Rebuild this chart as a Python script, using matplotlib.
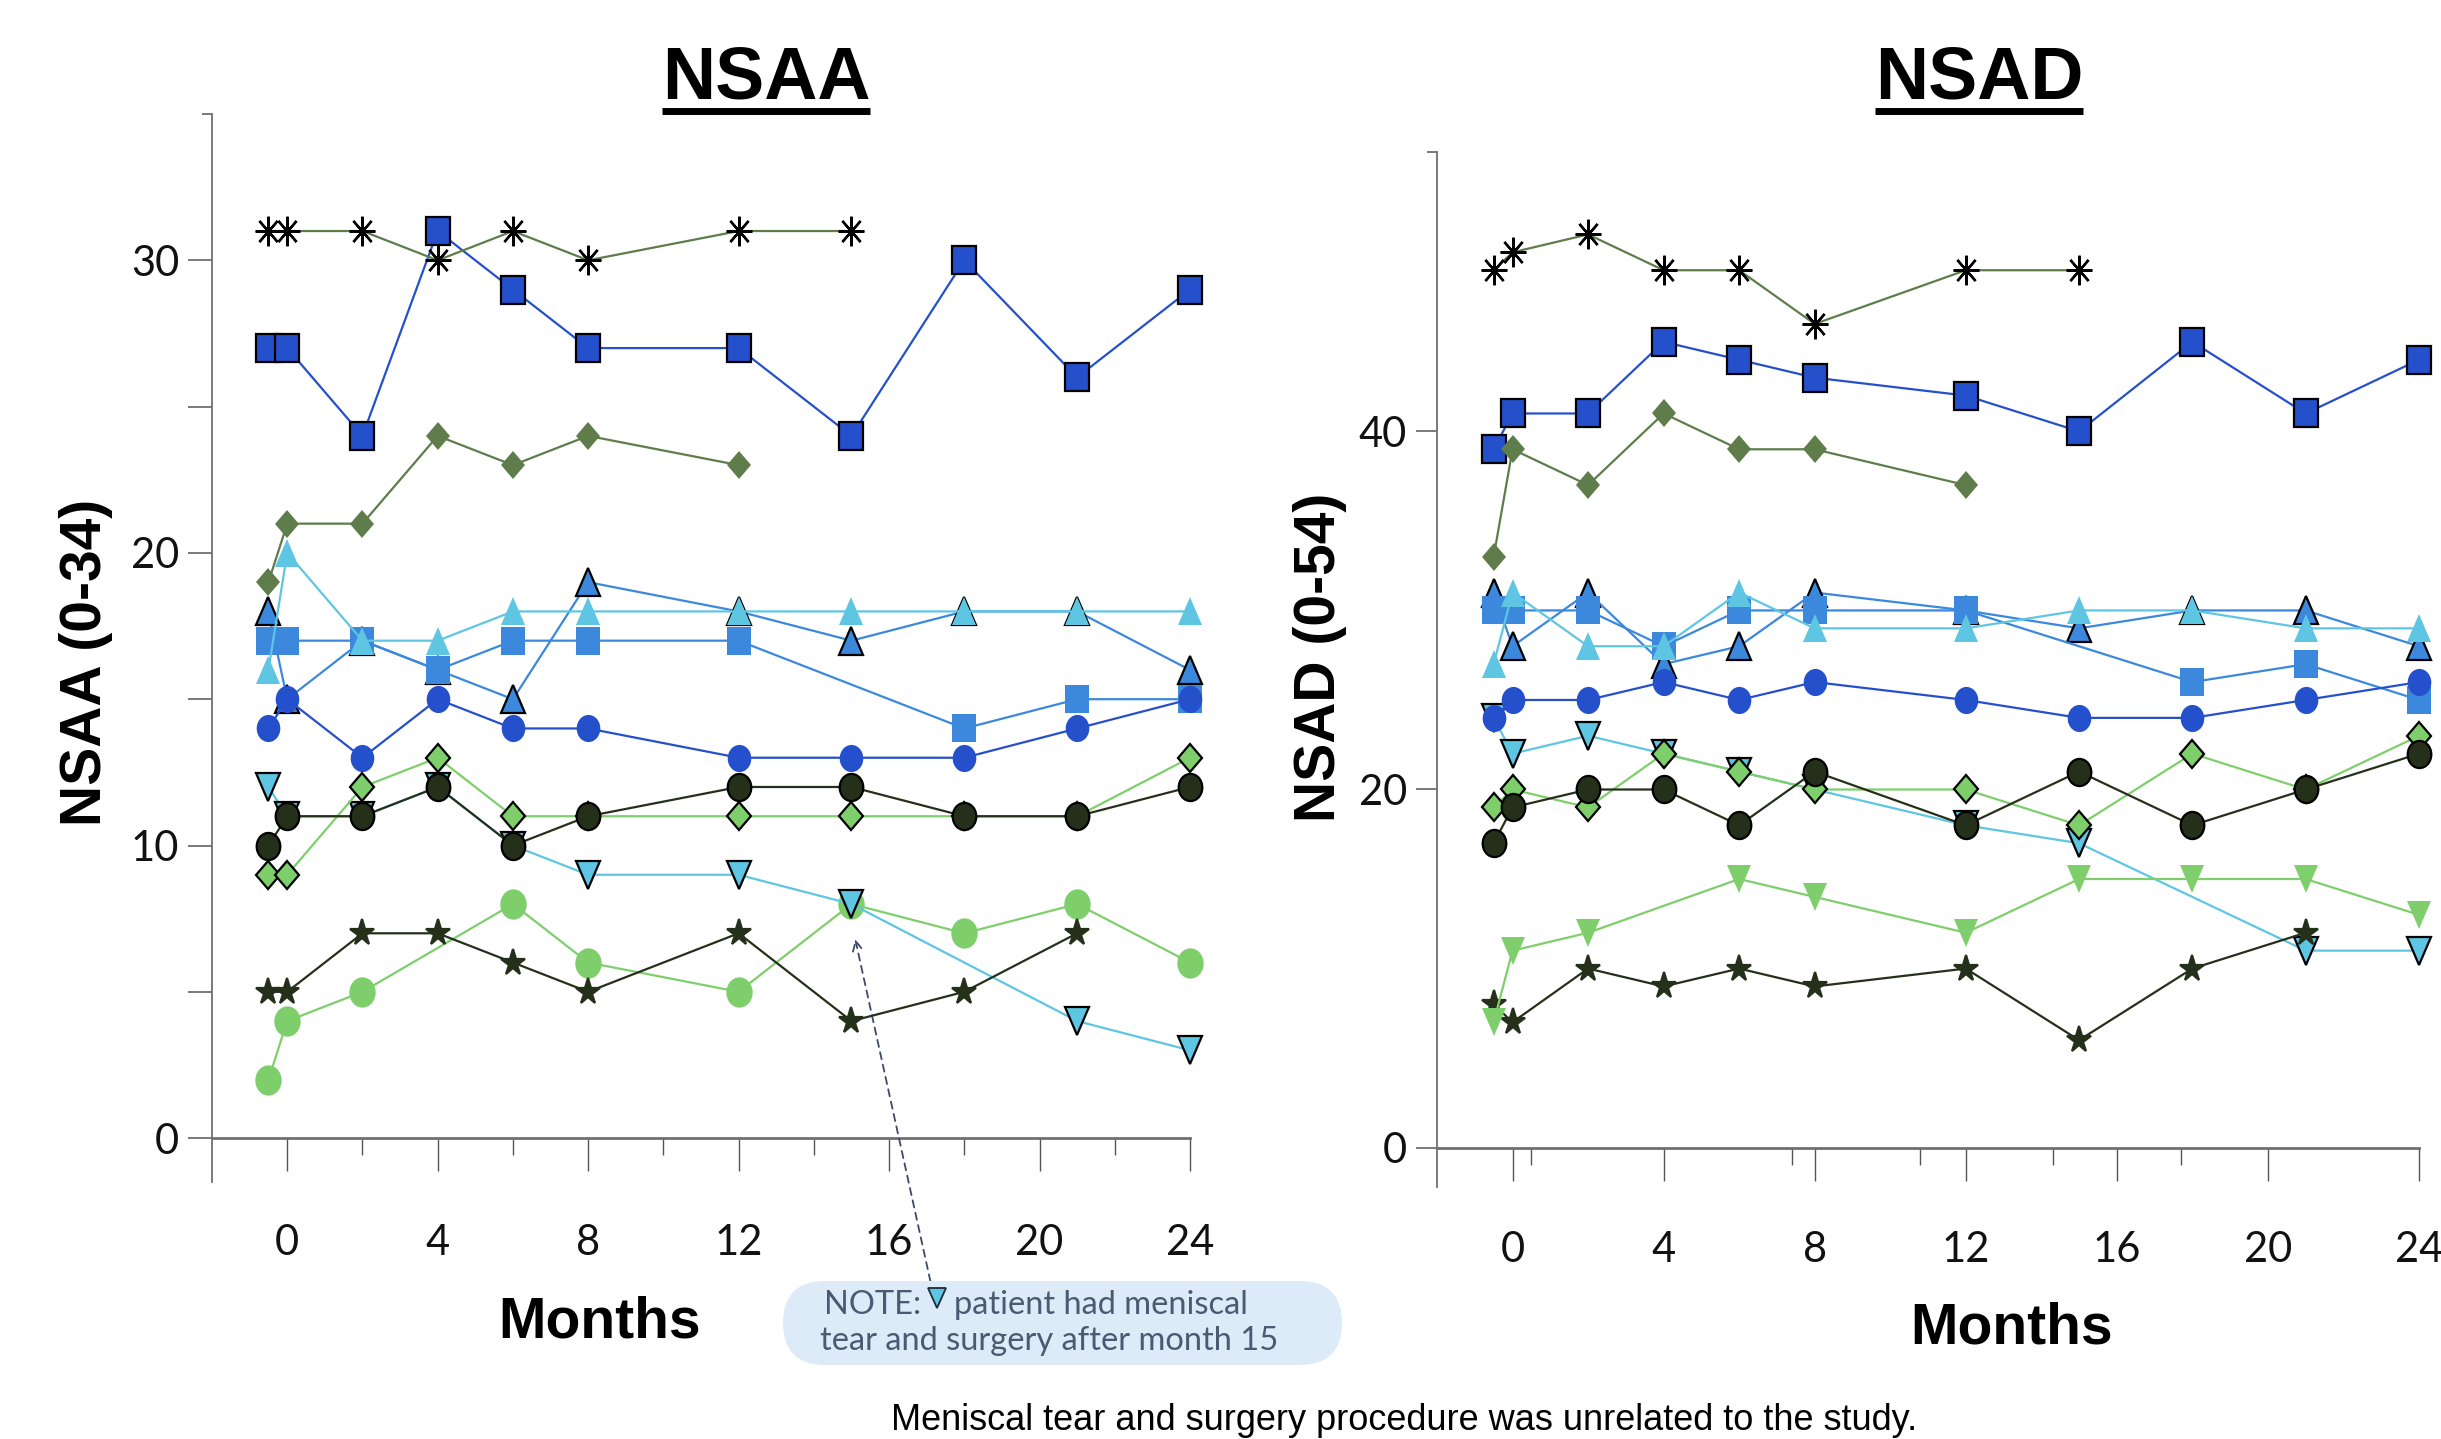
import matplotlib
matplotlib.use("Agg")
import matplotlib.pyplot as plt
from matplotlib.markers import MarkerStyle
from matplotlib.transforms import Affine2D
from matplotlib.patches import FancyBboxPatch
from matplotlib.lines import Line2D

plt.rcParams["font.family"] = ["Lato", "DejaVu Sans"]

# visit months (-0.5 = screening visit)
M_ALL = [-0.5, 0, 2, 4, 6, 8, 12, 15, 18, 21, 24]
M_TO21 = [-0.5, 0, 2, 4, 6, 8, 12, 15, 18, 21]
M_TO15 = [-0.5, 0, 2, 4, 6, 8, 12, 15]
M_TO12 = [-0.5, 0, 2, 4, 6, 8, 12]
M_NO15 = [-0.5, 0, 2, 4, 6, 8, 12, 18, 21, 24]
M_NO18 = [-0.5, 0, 2, 4, 6, 8, 12, 15, 21, 24]
M_NO4 = [-0.5, 0, 2, 6, 8, 12, 15, 18, 21, 24]

# NSAA scores per patient
nsaa_asterisk = [31, 31, 31, 30, 31, 30, 31, 31]
nsaa_royal_sq = [27, 27, 24, 31, 29, 27, 27, 24, 30, 26, 29]
nsaa_olive_dia = [19, 21, 21, 24, 23, 24, 23]
nsaa_cyan_up = [16, 20, 17, 17, 18, 18, 18, 18, 18, 18, 18]
nsaa_blue_up = [18, 15, 17, 16, 15, 19, 18, 17, 18, 18, 16]
nsaa_blue_sq = [17, 17, 17, 16, 17, 17, 17, 14, 15, 15]
nsaa_royal_ci = [14, 15, 13, 15, 14, 14, 13, 13, 13, 14, 15]
nsaa_dark_ci = [10, 11, 11, 12, 10, 11, 12, 12, 11, 11, 12]
nsaa_green_dia = [9, 9, 12, 13, 11, 11, 11, 11, 11, 11, 13]
nsaa_cyan_down = [12, 11, 11, 12, 10, 9, 9, 8, 4, 3]
nsaa_green_ci = [2, 4, 5, 8, 6, 5, 8, 7, 8, 6]
nsaa_dark_star = [5, 5, 7, 7, 6, 5, 7, 4, 5, 7]

# NSAD scores per patient
nsad_asterisk = [49, 50, 51, 49, 49, 46, 49, 49]
nsad_royal_sq = [39, 41, 41, 45, 44, 43, 42, 40, 45, 41, 44]
nsad_olive_dia = [33, 39, 37, 41, 39, 39, 37]
nsad_cyan_up = [27, 31, 28, 28, 31, 29, 29, 30, 30, 29, 29]
nsad_blue_up = [31, 28, 31, 27, 28, 31, 30, 29, 30, 30, 28]
nsad_blue_sq = [30, 30, 30, 28, 30, 30, 30, 26, 27, 25]
nsad_royal_ci = [24, 25, 25, 26, 25, 26, 25, 24, 24, 25, 26]
nsad_dark_ci = [17, 19, 20, 20, 18, 21, 18, 21, 18, 20, 22]
nsad_green_dia = [19, 20, 19, 22, 21, 20, 20, 18, 22, 20, 23]
nsad_cyan_down = [24, 22, 23, 22, 21, 20, 18, 17, 11, 11]
nsad_green_down = [7, 11, 12, 15, 14, 12, 15, 15, 15, 13]
nsad_dark_star = [8, 7, 10, 9, 10, 9, 10, 6, 10, 12]

OLIVE = "#5e7d4b"
ROYAL = "#2550cc"
MBLUE = "#3b88dc"
CYAN = "#5ec6e2"
DARK = "#25301a"
LGREEN = "#7ecf6b"

STRETCH = Affine2D().scale(1.0, 1.15)

# (months, nsaa, nsad, line colour, marker, size, face, edge) in drawing order
SERIES = [
    (M_ALL, nsaa_blue_up, nsad_blue_up, MBLUE, "^", 17, MBLUE, "black"),
    (M_NO15, nsaa_blue_sq, nsad_blue_sq, MBLUE, "s", 17, MBLUE, "none"),
    (M_ALL, nsaa_cyan_up, nsad_cyan_up, CYAN, "^", 17, CYAN, "none"),
    (M_NO4, nsaa_green_ci, None, LGREEN, "o", 19, LGREEN, "none"),
    (M_NO18, nsaa_cyan_down, nsad_cyan_down, CYAN, "v", 17, CYAN, "black"),
    (M_ALL, nsaa_royal_ci, nsad_royal_ci, ROYAL, "o", 17, ROYAL, "none"),
    (M_ALL, nsaa_royal_sq, nsad_royal_sq, ROYAL, "s", 17, ROYAL, "black"),
    (M_ALL, nsaa_green_dia, nsad_green_dia, LGREEN, "D", 12, LGREEN, "black"),
    (M_ALL, nsaa_dark_ci, nsad_dark_ci, DARK, "o", 17, DARK, "black"),
    (M_TO21, nsaa_dark_star, nsad_dark_star, DARK, "*", 17.5, DARK, DARK),
    (M_TO12, nsaa_olive_dia, nsad_olive_dia, OLIVE, "D", 12, OLIVE, "none"),
    (M_TO15, nsaa_asterisk, nsad_asterisk, OLIVE, (8, 2, 0), 18.5, "black", "black"),
    (M_NO4, None, nsad_green_down, LGREEN, "v", 17, LGREEN, "none"),
]

W, H = 2441, 1439


def fx(px):
    return px / W


def fy(py):
    return 1 - py / H


def draw_series(ax, which):
    for i, (months, a, d, col, mk, ms, fc, ec) in enumerate(SERIES):
        vals = a if which == 0 else d
        if vals is None:
            continue
        mew = 1.6 if ec != "none" else 0
        if isinstance(mk, tuple):
            mew = 1.7
        ax.plot(months, vals, color=col, lw=1.6,
                marker=MarkerStyle(mk, transform=STRETCH), ms=ms,
                mfc=fc, mec=ec, mew=mew, zorder=3 + i, clip_on=False)


def style_axes(ax, ylim, yticks, ylabels, ytop, xminor, ylen, xpad):
    ax.set_xlim(-2, 24)
    ax.set_ylim(*ylim)
    for s in ("top", "right"):
        ax.spines[s].set_visible(False)
    ax.spines["left"].set_color("#707070")
    ax.spines["left"].set_linewidth(1.3)
    ax.spines["bottom"].set_position(("data", 0))
    ax.spines["bottom"].set_bounds(-2, 24)
    ax.spines["bottom"].set_color("#707070")
    ax.spines["bottom"].set_linewidth(2.0)
    ax.set_xticks([0, 4, 8, 12, 16, 20, 24])
    ax.set_xticks(xminor, minor=True)
    ax.set_yticks(yticks, ylabels)
    ax.set_yticks([ytop], minor=True)
    ax.tick_params(axis="x", which="major", length=24, width=1.0,
                   color="#555555", pad=xpad, labelsize=30, labelcolor="#111111")
    ax.tick_params(axis="x", which="minor", length=12, width=1.0, color="#555555")
    ax.tick_params(axis="y", which="major", length=ylen, width=1.3,
                   color="#707070", pad=6.5, labelsize=30, labelcolor="#111111")
    ax.tick_params(axis="y", which="minor", length=7, width=1.3, color="#707070")
    ax.patch.set_alpha(0)


fig = plt.figure(figsize=(W / 100, H / 100), dpi=100)

ax1 = fig.add_axes([fx(212), fy(1182), fx(978), 1068 / H])
draw_series(ax1, 0)
style_axes(ax1, (-1.5, 35), [0, 5, 10, 15, 20, 25, 30],
           ["0", "", "10", "", "20", "", "30"], 35,
           [2, 6, 10, 14, 18, 22], 17, 38)

ax2 = fig.add_axes([fx(1437), fy(1187), fx(982), (1187 - 151.7) / H])
draw_series(ax2, 1)
style_axes(ax2, (-2.2, 55.62), [0, 20, 40], ["0", "20", "40"], 55.62,
           [0.5, 7.4, 10.8, 14.3, 17.7], 15, 36)

bold = ["Liberation Sans", "DejaVu Sans"]

# titles with underline
titles = []
for cx, txt in ((766, "NSAA"), (1979, "NSAD")):
    t = fig.text(fx(cx), fy(99), txt, ha="center", va="baseline",
                 fontsize=53, fontweight="bold", family=bold)
    titles.append(t)

fig.text(fx(86), fy(662), "NSAA (0-34)", rotation=90, ha="center", va="center",
         fontsize=41, fontweight="bold", family=bold)
fig.text(fx(1320), fy(657), "NSAD (0-54)", rotation=90, ha="center", va="center",
         fontsize=41, fontweight="bold", family=bold)
fig.text(fx(600), fy(1323), "Months", ha="center", va="center",
         fontsize=41, fontweight="bold", family=bold)
fig.text(fx(2012), fy(1328), "Months", ha="center", va="center",
         fontsize=41, fontweight="bold", family=bold)

# note box
box = FancyBboxPatch((7.83, (H - 1365) / 100), 5.59, 0.84,
                     boxstyle="round,pad=0,rounding_size=0.42",
                     transform=fig.dpi_scale_trans, fc="#dcebf7", ec="none")
fig.add_artist(box)
NOTE_C = "#4a5a72"
fig.text(fx(824), fy(1305), "NOTE:", ha="left", va="center", fontsize=23.5, color=NOTE_C)
fig.text(fx(954), fy(1305), "patient had meniscal", ha="left", va="center",
         fontsize=23.5, color=NOTE_C)
fig.text(fx(1049), fy(1341), "tear and surgery after month 15", ha="center",
         va="center", fontsize=23.5, color=NOTE_C)
fig.add_artist(Line2D([fx(937)], [fy(1298)], transform=fig.transFigure,
                      marker=MarkerStyle("v", transform=STRETCH), ms=13,
                      mfc=CYAN, mec="#1d2a3a", mew=1.3))

ax1.annotate("", xy=(15.1, 6.8), xytext=(17.1, -4.9), textcoords="data",
             annotation_clip=False,
             arrowprops=dict(arrowstyle="->,head_length=0.7,head_width=0.35",
                             linestyle=(0, (4, 3)), color="#3c4a6a", lw=1.3,
                             shrinkA=0, shrinkB=0))

fig.text(fx(1404), fy(1430), "Meniscal tear and surgery procedure was unrelated to the study.",
         ha="center", va="baseline", fontsize=26, family=bold)

fig.canvas.draw()
r = fig.canvas.get_renderer()
for t in titles:
    bb = t.get_window_extent(r)
    fig.add_artist(Line2D([bb.x0 / W, bb.x1 / W], [fy(110.5)] * 2,
                          transform=fig.transFigure, color="black", lw=5,
                          solid_capstyle="butt"))

fig.savefig("out.png", dpi=100)
